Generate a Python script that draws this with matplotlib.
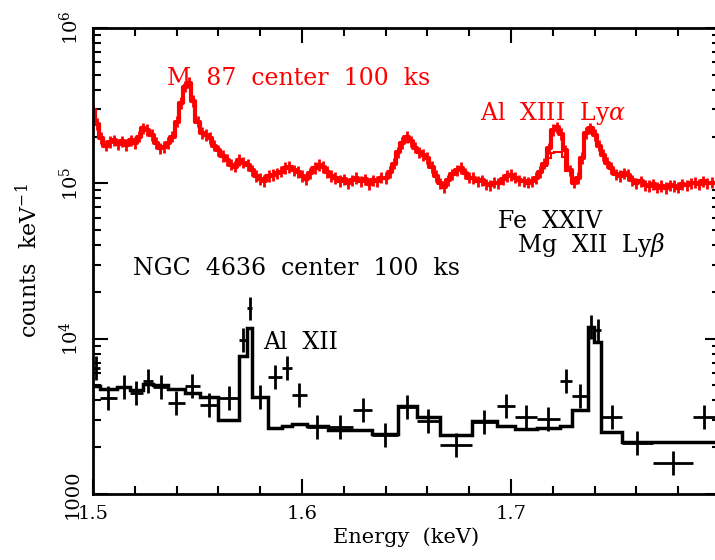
import numpy as np
import matplotlib
matplotlib.use("Agg")
import matplotlib.pyplot as plt

# M 87: espectro de alta resolucion (rojo)
e_m87 = np.arange(150) * 0.002 + 1.5
c_m87 = [2.95e5, 2.4e5, 1.95e5, 1.75e5, 1.84e5, 1.89e5, 1.78e5, 1.86e5, 1.76e5, 1.89e5,
         1.81e5, 2.0e5, 2.26e5, 2.2e5, 2.04e5, 1.81e5, 1.68e5, 1.72e5, 1.81e5, 2.0e5,
         2.5e5, 3.3e5, 4.2e5, 4.45e5, 3.4e5, 2.5e5, 2.1e5, 2.04e5, 1.95e5, 1.75e5,
         1.63e5, 1.5e5, 1.41e5, 1.32e5, 1.28e5, 1.41e5, 1.36e5, 1.31e5, 1.21e5, 1.12e5,
         1.07e5, 1.04e5, 1.11e5, 1.13e5, 1.16e5, 1.19e5, 1.25e5, 1.27e5, 1.21e5, 1.18e5,
         1.11e5, 1.06e5, 1.16e5, 1.25e5, 1.31e5, 1.27e5, 1.18e5, 1.11e5, 1.08e5, 1.04e5,
         1.06e5, 1.0e5, 1.045e5, 1.08e5, 1.03e5, 1.06e5, 0.99e5, 1.045e5, 1.03e5, 1.09e5,
         1.08e5, 1.18e5, 1.34e5, 1.58e5, 1.81e5, 1.98e5, 1.86e5, 1.70e5, 1.58e5, 1.52e5,
         1.45e5, 1.27e5, 1.11e5, 1.0e5, 0.95e5, 1.045e5, 1.14e5, 1.21e5, 1.25e5, 1.16e5,
         1.09e5, 1.08e5, 1.03e5, 1.045e5, 0.985e5, 0.97e5, 1.01e5, 1.0e5, 1.06e5, 1.11e5,
         1.13e5, 1.09e5, 1.045e5, 1.03e5, 1.01e5, 1.03e5, 1.08e5, 1.18e5, 1.34e5, 1.68e5,
         2.2e5, 2.29e5, 2.07e5, 1.63e5, 1.21e5, 1.01e5, 1.08e5, 1.45e5, 2.1e5, 2.26e5,
         2.04e5, 1.75e5, 1.52e5, 1.36e5, 1.25e5, 1.14e5, 1.11e5, 1.16e5, 1.13e5, 1.045e5,
         1.0e5, 1.03e5, 0.97e5, 0.96e5, 0.985e5, 0.94e5, 0.96e5, 0.93e5, 0.97e5, 0.96e5,
         0.94e5, 0.985e5, 0.97e5, 1.0e5, 1.01e5, 0.985e5, 1.03e5, 1.0e5, 1.01e5, 1.0e5]
c_m87 = np.array(c_m87)

# modelo rojo que asoma bajo el pico de Fe XXIV
e_mod_m87 = [1.715, 1.717, 1.719, 1.7205, 1.7245, 1.726, 1.728]
c_mod_m87 = [1.3e5, 1.45e5, 1.57e5, 1.58e5, 1.47e5, 1.2e5]

# NGC 4636: bordes de canal, datos y modelo (negro)
bordes = np.array([1.5000, 1.5033, 1.5115, 1.5177, 1.5239, 1.5287, 1.5359, 1.5440,
                   1.5512, 1.5598, 1.5699, 1.5737, 1.5761, 1.5837, 1.5904, 1.5952,
                   1.6024, 1.6124, 1.6244, 1.6335, 1.6459, 1.6550, 1.6660, 1.6813,
                   1.6933, 1.7019, 1.7124, 1.7234, 1.7292, 1.7368, 1.7397, 1.7431,
                   1.7531, 1.7679, 1.7871, 1.7976, 1.8096])
c_ngc = np.array([6.46e3, 4.14e3, 4.88e3, 4.46e3, 5.33e3, 4.88e3, 3.85e3, 4.95e3,
                  3.73e3, 4.14e3, 9.78e3, 15.7e3, 4.21e3, 5.65e3, 6.46e3, 4.33e3,
                  2.70e3, 2.70e3, 3.47e3, 2.39e3, 3.63e3, 2.95e3, 2.07e3, 2.90e3,
                  3.68e3, 3.13e3, 3.04e3, 5.33e3, 4.27e3, 11.9e3, 11.3e3, 3.13e3,
                  2.13e3, 1.58e3, 3.13e3, np.nan])
mod_ngc = np.array([4.95e3, 4.73e3, 4.88e3, 4.66e3, 5.10e3, 5.02e3, 4.73e3, 4.46e3,
                    4.21e3, 2.99e3, 7.71e3, 11.7e3, 4.21e3, 2.66e3, 2.74e3, 2.82e3,
                    2.74e3, 2.60e3, 2.58e3, 2.43e3, 3.68e3, 3.13e3, 2.39e3, 2.95e3,
                    2.74e3, 2.62e3, 2.66e3, 2.74e3, 3.47e3, 11.86e3, 9.48e3, 2.50e3,
                    2.16e3, 2.16e3, 2.16e3, 2.16e3])

plt.rcParams['font.family'] = 'DejaVu Serif'
plt.rcParams['mathtext.fontset'] = 'dejavuserif'

fig = plt.figure(figsize=(7.15, 5.6), dpi=100)
ax = fig.add_axes([93/715, 66/560, 627/715, 466/560])

# rojo
f_r = 1.09
ax.errorbar(e_m87, c_m87, yerr=[c_m87 - c_m87/f_r, c_m87*f_r - c_m87],
            color='red', lw=3, elinewidth=2, capsize=0, drawstyle='steps-mid')
ax.stairs(c_mod_m87, e_mod_m87, color='red', lw=1.5, baseline=None)

# negro
centros = (bordes[:-1] + bordes[1:]) / 2
anchos = (bordes[1:] - bordes[:-1]) / 2
f_n = 1.19
ax.errorbar(centros, c_ngc, xerr=anchos, yerr=[c_ngc - c_ngc/f_n, c_ngc*f_n - c_ngc],
            fmt='none', ecolor='black', elinewidth=2, capsize=0)
ax.stairs(mod_ngc, bordes, color='black', lw=2.5, baseline=None)

ax.set_yscale('log')
ax.set_xlim(1.5, 1.8)
ax.set_ylim(1000, 1e6)
ax.set_xticks([1.5, 1.6, 1.7, 1.8], labels=['1.5', '1.6', '1.7', ''])
ax.set_xticks(np.arange(1.5, 1.81, 0.02), minor=True)
ax.set_yticks([1e3, 1e4, 1e5, 1e6], labels=['1000', '$10^4$', '$10^5$', '$10^6$'])
ax.tick_params(which='both', direction='in', top=True, right=True, width=1.5, labelsize=14)
ax.tick_params(which='major', length=11)
ax.tick_params(which='minor', length=6)
ax.tick_params(axis='x', pad=8)
ax.tick_params(axis='y', pad=8)
for lab in ax.get_yticklabels():
    lab.set_rotation(90)
    lab.set_va('center')
for s in ax.spines.values():
    s.set_linewidth(2)

ax.set_xlabel('Energy  (keV)', fontsize=15, labelpad=3)
ax.set_ylabel('counts  keV$^{-1}$', fontsize=16, labelpad=12)

ax.text(1.5354, 4.27e5, 'M  87  center  100  ks', color='red', fontsize=17)
ax.text(1.6852, 2.54e5, r'Al  XIII  Ly$\alpha$', color='red', fontsize=17)
ax.text(1.6938, 5.14e4, 'Fe  XXIV', color='black', fontsize=17)
ax.text(1.7029, 3.6e4, r'Mg  XII  Ly$\beta$', color='black', fontsize=17)
ax.text(1.5191, 2.56e4, 'NGC  4636  center  100  ks', color='black', fontsize=17)
ax.text(1.5813, 8.56e3, 'Al  XII', color='black', fontsize=17)

fig.savefig('out.png', dpi=100)
